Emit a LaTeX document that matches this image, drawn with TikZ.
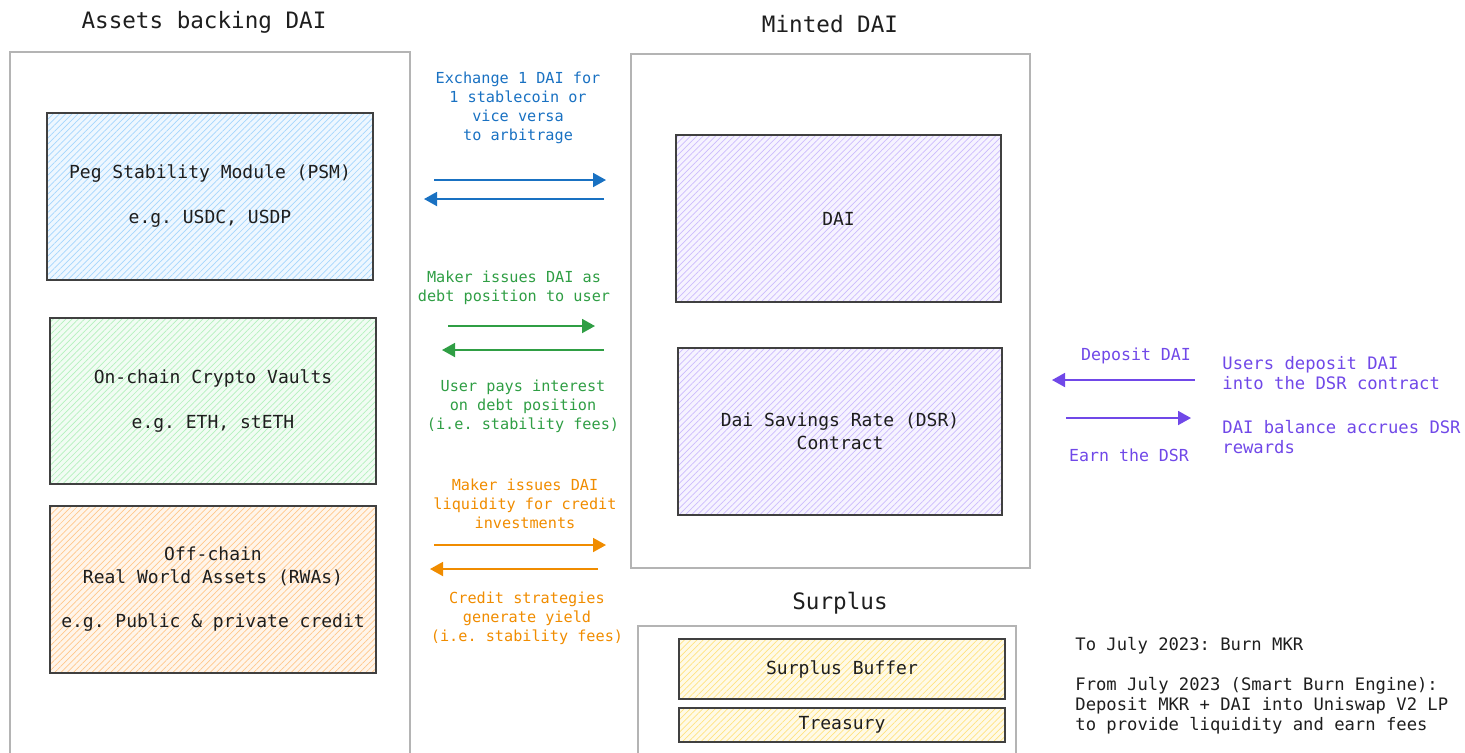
\documentclass[tikz,border=0pt]{standalone}
\usepackage{fontspec}
\setmonofont{DejaVu Sans Mono}
\usepackage{xcolor}
\usetikzlibrary{arrows.meta, patterns.meta, positioning}

\definecolor{ink}{HTML}{1E1E1E}
\definecolor{framegray}{HTML}{B4B4B4}
\definecolor{psmblue}{HTML}{1971C2}
\definecolor{vaultgreen}{HTML}{2F9E44}
\definecolor{rwaorange}{HTML}{F08C00}
\definecolor{dsrpurple}{HTML}{7048E8}
\definecolor{hatchblue}{HTML}{74C0FC}
\definecolor{hatchgreen}{HTML}{8CE99A}
\definecolor{hatchorange}{HTML}{FFA94D}
\definecolor{hatchpurple}{HTML}{B197FC}
\definecolor{hatchyellow}{HTML}{FFD43B}

\tikzset{
  title/.style={font=\ttfamily\fontsize{11.3}{14}\selectfont, text=ink, inner sep=0pt},
  group/.style={draw=framegray, line width=0.6pt, rectangle},
  asset/.style={draw=ink!85, line width=0.8pt, rectangle, align=center, text=ink,
    font=\ttfamily\fontsize{9}{11.5}\selectfont,
    preaction={fill=#1!12!white},
    pattern={Lines[angle=45, distance=2.2pt, line width=0.35pt]}, pattern color=#1!65!white},
  flowlabel/.style={font=\ttfamily\fontsize{7.6}{9.5}\selectfont, align=center, inner sep=0pt, text=#1},
  flow/.style={->, draw=#1, line width=0.9pt},
  note/.style={font=\ttfamily\fontsize{8.6}{10}\selectfont, align=left, anchor=west, inner sep=0pt, text=#1}
}

\begin{document}
\begin{tikzpicture}[x=0.5pt, y=-0.5pt, >={Triangle[length=6.5pt, width=7pt]}]
  \useasboundingbox (0,0) rectangle (1465,752);
  \clip (0,0) rectangle (1465,752);

  \node[title] (assetsT) at (204,22) {Assets backing DAI};
  \node[group, minimum width=200pt, minimum height=364pt] (assets) at (210,416) {};
  \node[asset=hatchblue, minimum width=163pt, minimum height=83.5pt] (psm) at (210,196.5) {Peg Stability Module (PSM)\\[11pt]e.g. USDC, USDP};
  \node[asset=hatchgreen, minimum width=163pt, minimum height=83pt] (vaults) at (213,401) {On-chain Crypto Vaults\\[11pt]e.g. ETH, stETH};
  \node[asset=hatchorange, minimum width=163pt, minimum height=83.5pt] (rwa) at (213,589.5) {Off-chain\\Real World Assets (RWAs)\\[10.5pt]e.g. Public \& private credit};

  \node[title] (mintedT) at (830,24) {Minted DAI};
  \node[group, minimum width=199.5pt, minimum height=257pt] (minted) at (830.5,311) {};
  \node[asset=hatchpurple, minimum width=162.5pt, minimum height=83.5pt] (dai) at (838.5,218.5) {DAI};
  \node[asset=hatchpurple, minimum width=162pt, minimum height=83.5pt] (dsr) at (840,431.5) {Dai Savings Rate (DSR)\\Contract};

  \node[title] (surplusT) at (840,603) {Surplus};
  \node[group, minimum width=189pt, minimum height=82pt] (surplus) at (827,708) {};
  \node[asset=hatchyellow, minimum width=163pt, minimum height=30pt] (buffer) at (842,669) {Surplus Buffer};
  \node[asset=hatchyellow, minimum width=163pt, minimum height=17pt] (treasury) at (842,725) {Treasury};

  \node[flowlabel=psmblue] (psmL) at (518,107.5) {Exchange 1 DAI for\\1 stablecoin or\\vice versa\\to arbitrage};
  \coordinate (psmA) at (434,180);
  \coordinate (psmB) at (606,180);
  \coordinate (psmC) at (604,199);
  \coordinate (psmD) at (424,199);
  \draw[flow=psmblue] (psmA) -- (psmB);
  \draw[flow=psmblue] (psmC) -- (psmD);

  \node[flowlabel=vaultgreen] (vaultsL) at (514,288) {Maker issues DAI as\\debt position to user};
  \node[flowlabel=vaultgreen] (vaultsF) at (523,406) {User pays interest\\on debt position\\(i.e. stability fees)};
  \coordinate (vaultsA) at (448,326);
  \coordinate (vaultsB) at (595,326);
  \coordinate (vaultsC) at (604,350);
  \coordinate (vaultsD) at (442,350);
  \draw[flow=vaultgreen] (vaultsA) -- (vaultsB);
  \draw[flow=vaultgreen] (vaultsC) -- (vaultsD);

  \node[flowlabel=rwaorange] (rwaL) at (525,504) {Maker issues DAI\\liquidity for credit\\investments};
  \node[flowlabel=rwaorange] (rwaF) at (527,618.5) {Credit strategies\\generate yield\\(i.e. stability fees)};
  \coordinate (rwaA) at (434,545);
  \coordinate (rwaB) at (606,545);
  \coordinate (rwaC) at (598,569);
  \coordinate (rwaD) at (430,569);
  \draw[flow=rwaorange] (rwaA) -- (rwaB);
  \draw[flow=rwaorange] (rwaC) -- (rwaD);

  \node[flowlabel=dsrpurple, font=\ttfamily\fontsize{8.3}{10}\selectfont] (depositL) at (1136,356) {Deposit DAI};
  \node[flowlabel=dsrpurple, font=\ttfamily\fontsize{8.3}{10}\selectfont] (earnL) at (1129,455) {Earn the DSR};
  \coordinate (dsrA) at (1195,380);
  \coordinate (dsrB) at (1052,380);
  \coordinate (dsrC) at (1066,418);
  \coordinate (dsrD) at (1191,418);
  \draw[flow=dsrpurple] (dsrA) -- (dsrB);
  \draw[flow=dsrpurple] (dsrC) -- (dsrD);
  \node[note=dsrpurple] (depositN) at (1222,373) {Users deposit DAI\\into the DSR contract};
  \node[note=dsrpurple] (earnN) at (1222,437) {DAI balance accrues DSR\\rewards};

  \node[note=ink] (burnN) at (1075,686) {To July 2023: Burn MKR\\[10pt]From July 2023 (Smart Burn Engine):\\Deposit MKR + DAI into Uniswap V2 LP\\to provide liquidity and earn fees};
\end{tikzpicture}
\end{document}
